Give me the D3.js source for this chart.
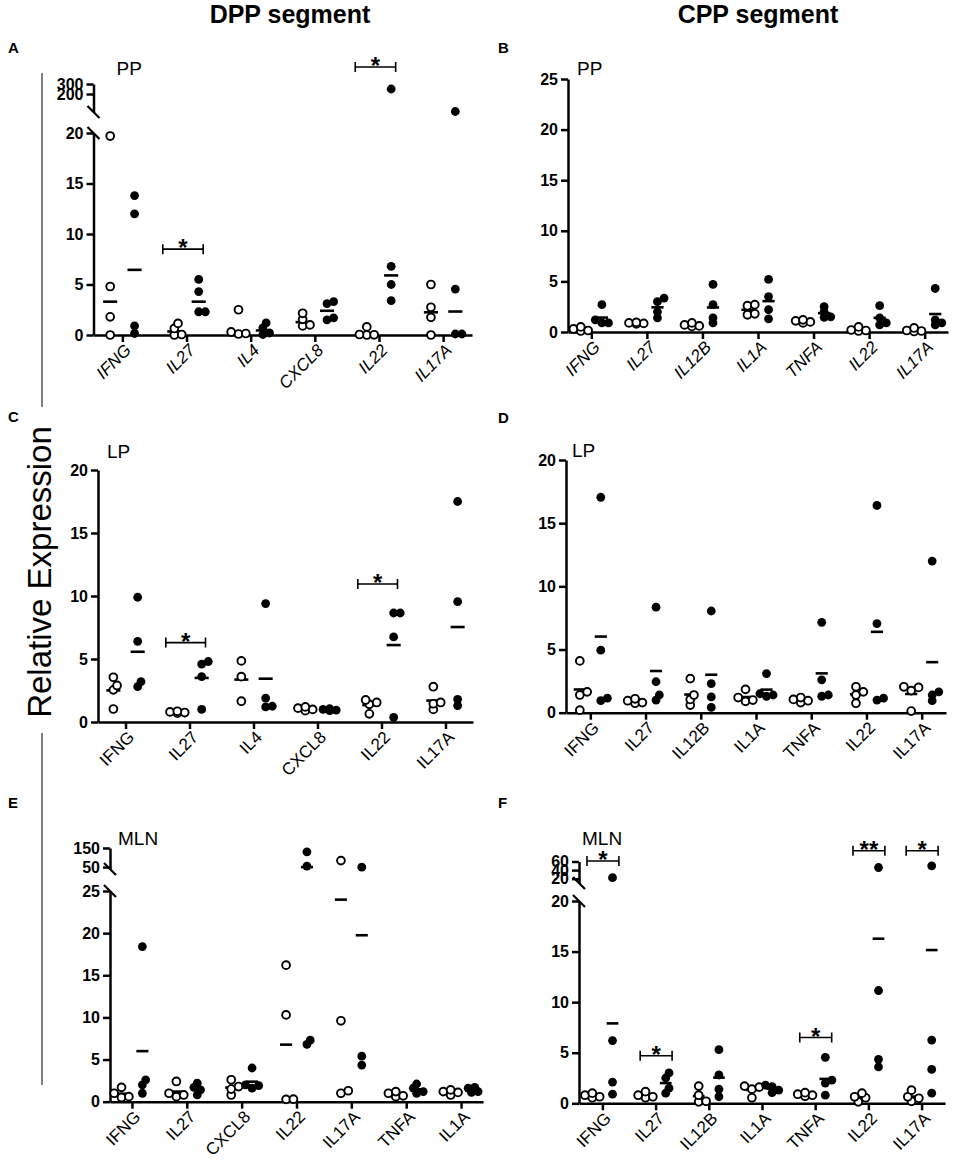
<!DOCTYPE html>
<html>
<head>
<meta charset="utf-8">
<script src="https://cdn.jsdelivr.net/npm/d3@7"></script>
<style>
body { margin: 0; background: #fff; }
svg text { font-family: Arial, "Liberation Sans", sans-serif; }
</style>
</head>
<body>
<svg id="fig" width="957" height="1170"></svg>
<script>
// categories
const catsDPP = ["IFNG", "IL27", "IL4", "CXCL8", "IL22", "IL17A"]
const catsCPP = ["IFNG", "IL27", "IL12B", "IL1A", "TNFA", "IL22", "IL17A"]
const catsMLN_DPP = ["IFNG", "IL27", "CXCL8", "IL22", "IL17A", "TNFA", "IL1A"]

// A: DPP, PP  (open / filled circles)
const openA = [[19.7, 4.8, 1.8, 0], [1.15, 0.65, 0.05, 0], [2.5, 0.3, 0.15, 0.1],
	[2.15, 1.55, 1.0, 0.9], [0.8, 0.05, 0.02, 0], [5.0, 2.75, 1.75, 0]]
const filledA = [[13.8, 12.0, 0.9, 0.15], [5.5, 4.3, 2.3, 2.3], [1.2, 0.7, 0.2, 0.05],
	[3.3, 3.1, 1.7, 1.5], [250, 6.8, 5.0, 3.4], [25, 4.55, 0.1, 0.1]]

// B: CPP, PP
const openB = [[0.5, 0.3, 0.15, 0.1], [0.95, 0.9, 0.85, 0.8], [0.9, 0.7, 0.6, 0.55],
	[2.7, 2.6, 1.8, 1.7], [1.2, 1.1, 1.0, 0.9], [0.5, 0.2, 0.15, 0.1], [0.4, 0.15, 0.1, 0.05]]
const filledB = [[2.7, 1.2, 0.9, 0.9], [3.35, 3.0, 2.0, 1.4], [4.7, 2.7, 1.4, 0.9],
	[5.2, 3.5, 2.2, 1.3], [2.5, 2.0, 1.5, 1.45], [2.6, 1.4, 0.9, 0.7], [4.3, 1.2, 0.9, 0.7]]

// C: DPP, LP
const openC = [[3.55, 2.9, 2.55, 1.03], [0.85, 0.8, 0.75, 0.7], [4.85, 3.6, 1.65],
	[1.2, 1.1, 1.0, 0.9], [1.75, 1.55, 1.4, 0.65], [2.8, 1.55, 1.45, 1.0]]
const filledC = [[9.9, 6.4, 3.2, 2.8], [4.8, 4.6, 3.6, 1.0], [9.4, 1.9, 1.25, 1.2],
	[1.05, 1.0, 0.95, 0.9], [8.65, 8.65, 6.75, 0.37], [17.5, 9.55, 1.8, 1.3]]

// D: CPP, LP
const openD = [[4.1, 1.65, 1.4, 0.2], [1.1, 0.95, 0.8, 0.75], [2.7, 1.4, 1.05, 0.6],
	[1.85, 1.2, 1.0, 0.9], [1.2, 1.05, 0.95, 0.8], [2.05, 1.65, 1.4, 0.75], [2.05, 2.0, 1.75, 0.13]]
const filledD = [[17.05, 4.95, 1.15, 0.95], [8.35, 2.45, 1.4, 1.0], [8.05, 2.3, 1.25, 0.42],
	[3.1, 1.5, 1.4, 1.3], [7.15, 2.6, 1.4, 1.3], [16.4, 7.05, 1.15, 1.0], [12.0, 1.65, 1.4, 0.95]]

// E: DPP, MLN
const openE = [[1.7, 1.0, 0.6, 0.5], [2.4, 1.0, 0.8, 0.6], [2.6, 1.8, 1.5, 0.8],
	[16.2, 10.3, 0.3, 0.28], [84, 9.6, 1.3, 1.0], [1.2, 1.0, 0.7, 0.6], [1.4, 1.2, 1.1, 0.8]]
const filledE = [[18.4, 2.6, 2.0, 1.0], [2.2, 1.7, 1.4, 0.8], [4.0, 2.0, 1.9, 1.6],
	[130, 55, 7.3, 6.8], [49.5, 5.4, 4.35], [2.1, 1.6, 1.2, 1.0], [1.7, 1.6, 1.2, 1.1]]

// F: CPP, MLN
const openF = [[1.0, 0.8, 0.65, 0.55], [1.15, 0.8, 0.65, 0.55], [1.7, 0.8, 0.2, 0.15],
	[1.7, 1.6, 1.4, 0.55], [1.05, 0.9, 0.8, 0.7], [1.0, 0.65, 0.55, 0.15], [1.3, 0.65, 0.5, 0.2]]
const filledF = [[22.4, 6.2, 2.1, 0.9], [3.0, 2.5, 1.5, 1.0], [5.3, 2.8, 1.4, 0.65],
	[1.8, 1.65, 1.3, 1.05], [4.55, 2.3, 2.0, 0.8], [46, 11.15, 4.35, 3.6], [50, 6.25, 3.35, 1.0]]

// y tick labels
const ticksA = [0, 5, 10, 15, 20], ticksAUp = [200, 300]
const ticks25 = [0, 5, 10, 15, 20, 25]
const ticks20 = [0, 5, 10, 15, 20]
const ticksE = [0, 5, 10, 15, 20, 25], ticksEUp = [50, 150]
const ticksF = [0, 5, 10, 15, 20], ticksFUp = [20, 40, 60]

// significance brackets (y in data units)
const sigA = [{ cat: "IL27", y: 8.5, mark: "*" }, { cat: "IL22", y: 470, mark: "*" }]
const sigC = [{ cat: "IL27", y: 6.3, mark: "*" }, { cat: "IL22", y: 10.95, mark: "*" }]
const sigF = [{ cat: "IFNG", y: 61, mark: "*" }, { cat: "IL27", y: 4.7, mark: "*" },
	{ cat: "TNFA", y: 6.5, mark: "*" }, { cat: "IL22", y: 85, mark: "**" }, { cat: "IL17A", y: 85, mark: "*" }]

const panels = [
	{ letter: "A", lx: 8, ly: 53, title: "PP", tdx: 23, ty: 75, cats: catsDPP, open: openA, filled: filledA,
		centre: d3.median, italic: true, x0: 93.5, x1: 472, pad: 0.45,
		lower: [0, 20], lowerRange: [335, 133], upper: [20, 300], upperRange: [112, 84],
		ticks: ticksA, upTicks: ticksAUp, sig: sigA, br: [-0.37, 0.26] },
	{ letter: "B", lx: 498, ly: 53, title: "PP", tdx: 9, ty: 75, cats: catsCPP, open: openB, filled: filledB,
		centre: d3.mean, italic: true, x0: 568, x1: 948, pad: 0.42,
		lower: [0, 25], lowerRange: [332, 79], ticks: ticks25, sig: [] },
	{ letter: "C", lx: 8, ly: 422, title: "LP", tdx: 9, ty: 458, cats: catsDPP, open: openC, filled: filledC,
		centre: d3.mean, italic: false, x0: 98, x1: 473, pad: 0.43,
		lower: [0, 20], lowerRange: [722, 470], ticks: ticks20, sig: sigC, br: [-0.37, 0.25] },
	{ letter: "D", lx: 498, ly: 423, title: "LP", tdx: 6, ty: 457, cats: catsCPP, open: openD, filled: filledD,
		centre: d3.mean, italic: false, x0: 566, x1: 946, pad: 0.44,
		lower: [0, 20], lowerRange: [712.7, 460], ticks: ticks20, sig: [] },
	{ letter: "E", lx: 8, ly: 808, title: "MLN", tdx: 8, ty: 845, cats: catsMLN_DPP, open: openE, filled: filledE,
		centre: d3.mean, italic: false, x0: 110, x1: 483, pad: 0.4,
		lower: [0, 25], lowerRange: [1101.7, 891], upper: [40, 150], upperRange: [869, 848],
		ticks: ticksE, upTicks: ticksEUp, sig: [] },
	{ letter: "F", lx: 498, ly: 808, title: "MLN", tdx: 3, ty: 845, cats: catsCPP, open: openF, filled: filledF,
		centre: d3.mean, italic: false, x0: 579, x1: 945, pad: 0.44,
		lower: [0, 20], lowerRange: [1103.3, 901], upper: [10, 60], upperRange: [883, 861.5],
		ticks: ticksF, upTicks: ticksFUp, sig: sigF, br: [-0.29, 0.31] },
]

const svg = d3.select("#fig")
const R_OPEN = 3.9, R_FILL = 4.4

// simple swarm: nudge points sideways only when they sit almost on top of each other
const swarm = function(vals, cx, y, r) {
	const placed = []
	const order = vals.slice().sort((a, b) => a - b)
	order.forEach(v => {
		const py = y(v)
		const cands = [0, 0.75 * r, -0.75 * r, 1.5 * r, -1.5 * r]
		let off = cands.find(c => placed.every(q => Math.hypot(q.x - (cx + c), q.y - py) >= r * 1.15))
		if (off === undefined) off = 0
		placed.push({ x: cx + off, y: py })
	})
	return placed
}

const styleAxis = function(sel) {
	sel.select(".domain").attr("stroke", "#000").attr("stroke-width", 2.5)
	sel.selectAll(".tick line").attr("stroke", "#000").attr("stroke-width", 2.5)
	sel.selectAll(".tick text").attr("fill", "#000")
}

const boldTicks = function(sel) {
	sel.attr("font-size", null).attr("font-family", null)
	sel.selectAll(".tick text")
		.style("font-size", "16px")
		.style("font-weight", "700")
}

const drawPanel = function(p) {
	const g = svg.append("g")
	const x = d3.scalePoint().domain(p.cats).range([p.x0, p.x1]).padding(p.pad)
	const step = x.step()
	const yLow = d3.scaleLinear().domain(p.lower).range(p.lowerRange)
	const yUp = p.upper ? d3.scaleLinear().domain(p.upper).range(p.upperRange) : null
	const y = v => (yUp && v > p.lower[1]) ? yUp(v) : yLow(v)
	const base = p.lowerRange[0]

	// y axis (lower part)
	const ay = g.append("g").attr("transform", `translate(${p.x0},0)`)
		.call(d3.axisLeft(yLow).tickValues(p.ticks).tickSize(7).tickSizeOuter(0).tickPadding(3))
	boldTicks(ay)
	styleAxis(ay)

	if (yUp) {
		const au = g.append("g").attr("transform", `translate(${p.x0},0)`)
			.call(d3.axisLeft(yUp).tickValues(p.upTicks).tickSize(7).tickSizeOuter(0).tickPadding(3))
		boldTicks(au)
		styleAxis(au)
		// break marks
		const yb = [p.upperRange[0], p.lowerRange[1]]
		g.selectAll(".brk").data(yb).enter().append("line")
			.attr("x1", p.x0 - 6).attr("x2", p.x0 + 6)
			.attr("y1", d => d - 6).attr("y2", d => d + 6)
			.attr("stroke", "#000").attr("stroke-width", 2.2)
	}

	// x axis
	const ax = g.append("g").attr("transform", `translate(0,${base})`)
		.call(d3.axisBottom(x).tickSize(7).tickSizeOuter(0))
	ax.attr("font-size", null).attr("font-family", null)
	styleAxis(ax)
	ax.selectAll(".tick text")
		.style("font-size", "17px")
		.style("font-style", p.italic ? "italic" : "normal")
		.attr("text-anchor", "end")
		.attr("transform", "translate(5,12) rotate(-45)")
		.attr("dy", "0.35em").attr("y", 0).attr("x", 0)

	// centre lines then points
	const groups = []
	p.cats.forEach((c, i) => {
		groups.push({ vals: p.open[i], cx: x(c) - 0.19 * step, open: true })
		groups.push({ vals: p.filled[i], cx: x(c) + 0.19 * step, open: false })
	})

	const half = 0.11 * step
	g.selectAll(".mid").data(groups).enter().append("line")
		.attr("x1", d => d.cx - half).attr("x2", d => d.cx + half)
		.attr("y1", d => y(p.centre(d.vals))).attr("y2", d => y(p.centre(d.vals)))
		.attr("stroke", "#000").attr("stroke-width", 2.6)

	groups.forEach(gr => {
		const pts = swarm(gr.vals, gr.cx, y, gr.open ? R_OPEN + 1 : R_FILL)
		g.selectAll(null).data(pts).enter().append("circle")
			.attr("cx", d => d.x).attr("cy", d => d.y)
			.attr("r", gr.open ? R_OPEN : R_FILL)
			.attr("fill", gr.open ? "#fff" : "#000")
			.attr("stroke", "#000")
			.attr("stroke-width", gr.open ? 1.9 : 0)
	})

	// significance brackets
	p.sig.forEach(s => {
		const xa = x(s.cat) + p.br[0] * step, xb = x(s.cat) + p.br[1] * step, yy = y(s.y)
		g.append("path")
			.attr("d", `M${xa},${yy - 5}V${yy + 5}M${xa},${yy}H${xb}M${xb},${yy - 5}V${yy + 5}`)
			.attr("fill", "none").attr("stroke", "#000").attr("stroke-width", 1.6)
		g.append("text").attr("x", (xa + xb) / 2).attr("y", yy + 7)
			.attr("text-anchor", "middle").style("font-size", "24px").style("font-weight", "bold")
			.text(s.mark)
	})

	// tissue label and panel letter
	g.append("text").attr("x", p.x0 + p.tdx).attr("y", p.ty)
		.style("font-size", "19px").text(p.title)
	svg.append("text").attr("x", p.lx).attr("y", p.ly)
		.style("font-size", "15px").style("font-weight", "bold").text(p.letter)
}

panels.forEach(drawPanel)

// column headers
svg.selectAll(".hdr").data([["DPP segment", 290], ["CPP segment", 758]]).enter().append("text")
	.attr("x", d => d[1]).attr("y", 22.5).attr("text-anchor", "middle")
	.style("font-size", "25px").style("font-weight", "bold").text(d => d[0])

// side rules and y title
svg.selectAll(".rule").data([[73, 407], [733, 1085]]).enter().append("line")
	.attr("x1", 42).attr("x2", 42).attr("y1", d => d[0]).attr("y2", d => d[1])
	.attr("stroke", "#555").attr("stroke-width", 1.5)

svg.append("text").attr("transform", "translate(51,572) rotate(-90)")
	.attr("text-anchor", "middle").style("font-size", "33px").text("Relative Expression")
</script>
</body>
</html>
